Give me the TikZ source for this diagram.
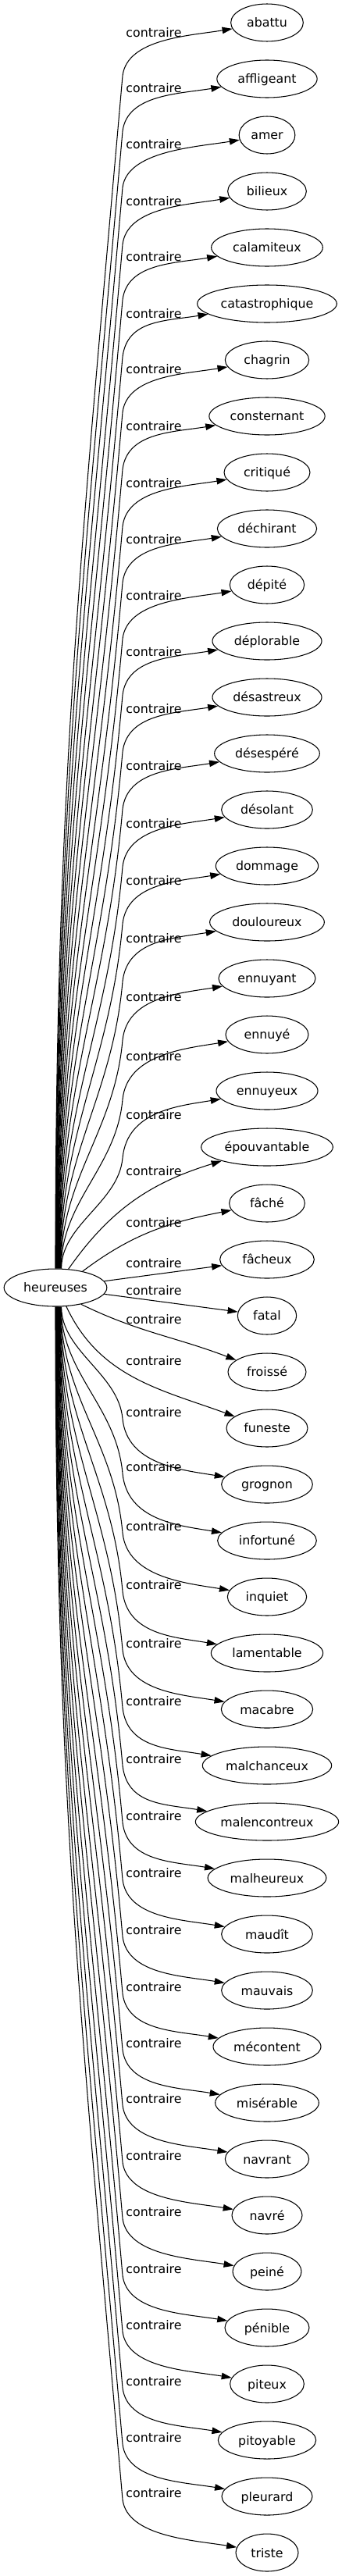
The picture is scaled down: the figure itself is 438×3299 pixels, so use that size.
\documentclass[tikz,border=0pt]{standalone}
\usepackage{fontspec}
\setmainfont{DejaVu Sans}
\usetikzlibrary{arrows.meta,shapes.geometric,calc}

\begin{document}
\begin{tikzpicture}[x=0.02cm,y=-0.02cm,link/.style={-{Triangle[length=0.26cm,width=0.17cm]},line width=0.6pt},word/.style={draw,ellipse,line width=0.6pt,inner sep=0pt,minimum height=0.96cm,font=\fontsize{9}{11}\selectfont,text height=8.1pt,text depth=1.3pt},rel/.style={inner sep=0pt,font=\fontsize{9}{11}\selectfont}]
\useasboundingbox (0,0) rectangle (438,3299);
\node[word,minimum width=131.7*0.02cm] (root) at (71,1649) {heureuses};
\foreach \word/\labely/\nw [count=\i from 0] in {abattu/42/92.7,affligeant/113/128.3,amer/185/71.7,bilieux/258/100.7,calamiteux/329/142.7,catastrophique/402/178.7,chagrin/473/107.3,consternant/546/148.3,critiqué/619/110,déchirant/691/127.3,dépité/763/95.3,déplorable/835/140,désastreux/908/140,désespéré/981/134.7,désolant/1055/116.7,dommage/1128/131.3,douloureux/1202/146.7,ennuyant/1277/124,ennuyé/1353/106,ennuyeux/1428/130,épouvantable/1500/168.7,fâché/1566/96.7,fâcheux/1618/120.7,fatal/1653/75.3,froissé/1690/100,funeste/1743/104,grognon/1809/116.7,infortuné/1879/126.7,inquiet/1955/101.3,lamentable/2030/143.3,macabre/2105/117.3,malchanceux/2179/165.3,malencontreux/2253/183.3,malheureux/2326/151.7,maudît/2399/116.7,mauvais/2472/116.7,mécontent/2545/138,misérable/2617/132.7,navrant/2688/107.3,navré/2761/90,peiné/2833/88,pénible/2906/108,piteux/2978/94.7,pitoyable/3050/125.3,pleurard/3122/116,triste/3193/80}{
  \pgfmathsetmacro\tgty{29+72*\i}
  \node[word,minimum width=\nw*0.02cm] (w\i) at (342,\tgty) {\word};
  \node[rel] (lab\i) at (197,\labely) {contraire};
  \ifnum\i<20
    \pgfmathsetmacro\bendy{\labely+55}
    \pgfmathsetmacro\rise{1625-\bendy}
    \pgfmathsetmacro\shiftx{0.4*\i}
    \pgfmathsetmacro\ctly{\bendy-0.7*(\bendy-\tgty)}
    \draw[link] ([xshift=\shiftx*0.02cm]root.north) .. controls (71+\shiftx,1625-0.4*\rise) and (157-0.035*\rise,\bendy+0.4*\rise) .. (157,\bendy) .. controls (163,\ctly) and ($(w\i.190)+(-55,9)$) .. (w\i.190);
  \fi
  \ifnum\i>25
    \pgfmathsetmacro\bendy{\labely+8}
    \pgfmathsetmacro\rise{\bendy-1673}
    \pgfmathsetmacro\shiftx{0.4*(45-\i)}
    \pgfmathsetmacro\ctly{\bendy+0.7*(\tgty-\bendy)}
    \draw[link] ([xshift=\shiftx*0.02cm]root.south) .. controls (71+\shiftx,1673+0.4*\rise) and (157-0.035*\rise,\bendy-0.4*\rise) .. (157,\bendy) .. controls (163,\ctly) and ($(w\i.170)+(-55,-9)$) .. (w\i.170);
  \fi
}
\draw[link] (root.55) to[out=55,in=197] (w20);
\draw[link] (root.31) to[out=37,in=191] (w21);
\draw[link] (root) -- (w22);
\draw[link] (root) -- (w23);
\draw[link] (root.-33) to[out=-26,in=159] (w24);
\draw[link] (root.-60) to[out=-65,in=160] (w25);
\end{tikzpicture}
\end{document}
